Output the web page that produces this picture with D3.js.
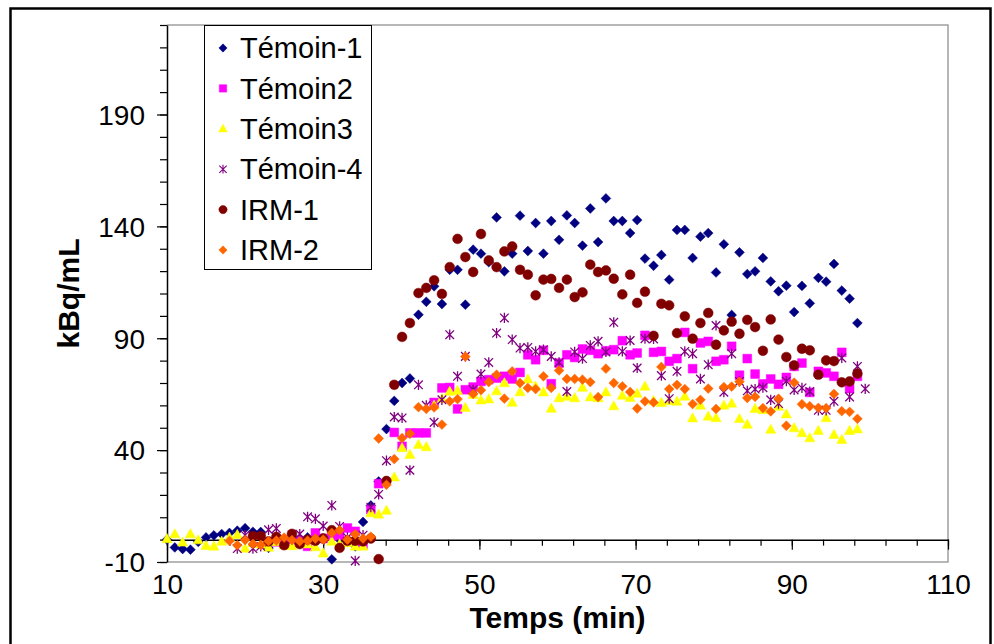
<!DOCTYPE html>
<html>
<head>
<meta charset="utf-8">
<script src="https://cdn.jsdelivr.net/npm/d3@7/dist/d3.min.js"></script>
<style>
  html, body { margin: 0; padding: 0; background: #fff; }
  svg { display: block; font-family: "Liberation Sans", Arial, sans-serif; }
</style>
</head>
<body>
<svg id="chart" width="994" height="644"></svg>
<script>
// ---- DATA ----
const temps = [
  10, 11, 12, 13, 14, 15, 16, 17, 18, 19,
  20, 21, 22, 23, 24, 25, 26, 27, 28, 29,
  30, 31.1, 32.1, 33.1, 34.1, 35.1, 36.1, 37.1, 38.1, 39.1,
  40.1, 41.1, 42.2, 43.2, 44.2, 45.2, 46.2, 47.2, 48.2, 49.2,
  50.2, 51.2, 52.2, 53.2, 54.2, 55.2, 56.2, 57.2, 58.2, 59.2,
  60.2, 61.2, 62.2, 63.2, 64.2, 65.2, 66.2, 67.2, 68.3, 69.3,
  70.2, 71.2, 72.3, 73.3, 74.3, 75.3, 76.3, 77.3, 78.3, 79.3,
  80.3, 81.3, 82.3, 83.3, 84.3, 85.3, 86.3, 87.3, 88.3, 89.3,
  90.3, 91.3, 92.3, 93.4, 94.4, 95.4, 96.4, 97.4, 98.4, 99.4
];

const temoin1 = [
  0, -3.5, -4.2, -4.5, -1, 1.0, 1.9, 2.5, 3.0, 4,
  5.1, 3.5, 3.4, -3.7, 0, -1, 1, 0, 1, -1,
  0.5, -8.8, 0, -1, -3, 7.9, 15.3, 26, 49.4, 62,
  70, 72, 100.5, 106.3, 113.2, 105.3, 120.6, 120.6, 105, 129.6,
  127.8, 124, 144, 119.9, 127.8, 144.8, 129, 141.5, 127.8, 142.4,
  134, 144.9, 141.5, 131.4, 148, 133, 152.5, 142.4, 142.4, 137,
  142.8, 125.6, 122.4, 127.2, 116.2, 138.4, 138.4, 125.9, 135.4, 137,
  119.4, 132, 100.4, 128.4, 118.7, 119.9, 125.9, 115.4, 111, 113.5,
  101.7, 113.4, 105.6, 117, 115.3, 123.2, 111.3, 107.7, 96.8, null
];

const temoin2 = [
  null, null, null, null, null, null, null, null, null, null,
  null, null, null, null, -1, 0, -1.5, -0.5, -3, 3,
  0.5, 1.5, 2, 5.2, 3.7, -2.3, 13.4, 25, null, 47.9,
  41.7, 47.7, 47.7, 47.7, 61.3, 67.8, 68, 58.4, 67, 68.2,
  70.7, 71.5, 72.2, 73, 71.8, 74.7, 82.6, 80.4, 84.6, 69.7,
  78.9, 82.6, 81.4, 85.2, 84.6, 83.1, 84.4, 84.9, 88.9, 82.6,
  83.4, 91.3, 83.7, 84.1, 79.7, 80.9, 92.6, 76.4, 87.9, 88.6,
  79.7, 80.4, 86.4, 73.5, 80.9, 74, 69.6, 71.8, 69.4, 72.5,
  77.4, 78.9, 65.8, 75.2, 74.5, 73, 83.7, 67.5, 73, null
];

const temoin3 = [
  0.3, 2.5, -1.2, 2.5, -0.2, -2.7, -3, -0.8, 1, 2.2,
  -3.9, -1.5, -2, -3.5, -1, -2.5, -2.8, -1, -2, -3.3,
  -6.1, -0.8, -2, -1.5, -3, -3, 11.9, 11.3, 13, 27.9,
  41, 38, 42.4, 41.4, 60, 63, 66.2, 66.6, 59, 64.8,
  62.3, 62.8, 66.4, 70, 61.3, 66, 71.7, 68.5, 65.9, 58.6,
  63.3, 64, 63.3, 68, 63.7, 63.3, 65.9, 59.7, 64.4, 63.4,
  65.3, 68.5, 62.1, 61.2, 62, 61.8, 64, 54.3, 60, 55.1,
  54.4, 60, 60.9, 54, 51.5, 58.5, 58, 49.2, 59.5, 56.1,
  49.9, 47.7, 45.4, 48.7, 54.4, 46.9, 44.7, 48.7, 49.4, null
];

const temoin4 = [
  null, null, null, null, null, null, null, null, null, -4,
  2, -4, -3, 4.4, 5, -1, 0, 2.5, 10.2, 9.3,
  6.1, 15.3, 5.9, 1, -9.5, 2, 14.5, 20.2, 35.3, 54.8,
  54.4, 31, 69.2, 60, 52.4, 62.5, 91.6, 73, 81.9, 67,
  74, 79.2, 92.3, 99.1, 89.4, 85.6, 85.9, 84.1, 84.9, 81.9,
  79.2, 66.2, 83.9, 80.9, 86.8, 88.6, 83.9, 97.1, 84.1, 89,
  76.7, 89.8, 89.7, 73.3, 63, 75.2, 84.1, 83.1, 71.8, 78.2,
  95.7, 65.9, 83.1, 70.7, 66.5, 67.3, 67.9, 62.5, 60.8, 70.8,
  66.9, 67.8, 66.2, 57.8, 57.8, 61.8, 81.2, 63.8, 77.4, 67.4
];

const irm1 = [
  null, null, null, null, null, null, null, null, null, null,
  null, 1.6, 1.6, -0.8, 1.2, -2.5, 2.6, -2, 0, -0.5,
  0.5, 4.2, -3.7, -0.5, -0.5, -0.8, 0.5, -8.7, 26.2, 69.2,
  90.6, 96.8, 110.2, 112.5, 115.9, 109.8, 121.8, 134.4, 126.3, 119.6,
  136.6, 124.8, 121.8, 128.8, 131, 120.6, 118.4, 109.2, 116.2, 116.5,
  112.5, 116.2, 108.4, 110.5, 122.9, 119.6, 120.3, 116.6, 109.6, 118.4,
  105.8, 110.8, 91.1, 105.4, 104.7, 92.3, 99.8, 89.8, 96.8, 101.3,
  87.1, 93.5, 97.4, 92, 98.2, 95, 84.4, 98.4, 89.4, 81.6,
  77.9, 85.3, 84.6, 73.7, 80.1, 79.8, 70.3, 70.7, 74.2, null
];

const irm2 = [
  null, null, null, null, null, null, null, null, -0.6, -2.5,
  -0.2, -1.9, -2.4, -0.7, -0.4, 0.9, -0.2, -0.8, -0.5, 0.5,
  0, 3, 4.2, 0, 2.4, 0.5, 1.3, 45.2, 24.5, 36,
  45.4, 47.3, 59.2, 58.4, 59.1, 51.4, 61.8, 62.8, 81.8, 65.1,
  66.8, 70.4, 73.7, 63, 75.2, 70, 67.8, 67.3, 73, 67.8,
  75.6, 71.8, 71.8, 71.5, 70.4, 63.7, 76.4, 70, 68.5, 66,
  58.6, 61.8, 61.3, 77.2, 67.3, 69.2, 67.3, 60.6, 62.5, 67.5,
  58.4, 68.2, 68.4, 70.6, 63.3, 63.8, 58.8, 57.3, 63, 50.9,
  70.2, 60.5, 59.6, 58.9, 58.8, 65.1, 57.4, 57.1, 54, null
];

const seriesNames = ["Témoin-1", "Témoin2", "Témoin3", "Témoin-4", "IRM-1", "IRM-2"];
const seriesValues = [temoin1, temoin2, temoin3, temoin4, irm1, irm2];
const seriesColors = ["#000080", "#FF00FF", "#FFFF00", "#800080", "#800000", "#FF6600"];
const seriesShapes = ["diamond", "square", "triangle", "star", "circle", "diamond"];

const xMajorTicks = [10, 30, 50, 70, 90, 110];
const yMajorTicks = [-10, 40, 90, 140, 190];
const xTitle = "Temps (min)";
const yTitle = "kBq/mL";

// ---- LAYOUT ----
const plot = { left: 167, right: 948, top: 25, bottom: 562 };
const svg = d3.select("#chart");

const x = d3.scaleLinear().domain([10, 110]).range([plot.left, plot.right]);
const y = d3.scaleLinear().domain([-10, 230]).range([plot.bottom, plot.top]);
const fmt = d => String(d);   // plain hyphen-minus like the reference

// outer frame
svg.append("rect")
  .attr("x", 10.5).attr("y", 8.5)
  .attr("width", 980).attr("height", 640)
  .attr("fill", "#fff").attr("stroke", "#000").attr("stroke-width", 2.5);

// plot area border (grey)
svg.append("path")
  .attr("d", `M${plot.left},${plot.top}H${plot.right}V${plot.bottom}H${plot.left}`)
  .attr("fill", "none").attr("stroke", "#a0a0a0").attr("stroke-width", 1.5);

function shapePath(shape) {
  switch (shape) {
    case "diamond": { const r = 4.9; return `M0,${-r}L${r},0L0,${r}L${-r},0Z`; }
    case "square": { const s = 4.4; return `M${-s},${-s}H${s}V${s}H${-s}Z`; }
    case "triangle": return "M0,-5.4L5.1,3.8L-5.1,3.8Z";
    case "circle": { const r = 4.9; return `M${r},0A${r},${r} 0 1 1 ${-r},0A${r},${r} 0 1 1 ${r},0Z`; }
    case "star": { const r = 4.3; return `M${-r},${-r}L${r},${r}M${-r},${r}L${r},${-r}M0,${-r - 0.8}L0,${r + 0.8}`; }
  }
}

function drawMarker(g, shape, color, scale) {
  const p = g.append("path").attr("d", shapePath(shape));
  if (scale) p.attr("transform", `scale(${scale})`);
  if (shape === "star") {
    p.attr("fill", "none").attr("stroke", color).attr("stroke-width", 1.3);
  } else {
    p.attr("fill", color).attr("stroke", color).attr("stroke-width", 0.5);
  }
}

// Y axis: minor ticks every 10, major every 50
const yMinor = d3.axisLeft(y).tickValues(d3.range(-10, 231, 10)).tickSize(7).tickFormat("");
const gyMinor = svg.append("g").attr("transform", `translate(${plot.left},0)`).call(yMinor);
gyMinor.select(".domain").remove();
gyMinor.selectAll("line").attr("stroke", "#000").attr("stroke-width", 1.2);

const yAxis = d3.axisLeft(y).tickValues(yMajorTicks).tickSize(10).tickPadding(12).tickSizeOuter(0).tickFormat(fmt);
const gy = svg.append("g").attr("transform", `translate(${plot.left},0)`).call(yAxis);
gy.select(".domain").attr("stroke", "#000").attr("stroke-width", 1.5);
gy.selectAll("line").attr("stroke", "#000").attr("stroke-width", 1.2);
gy.selectAll("text").attr("font-size", 28).attr("fill", "#000")
  .attr("font-family", "Liberation Sans, Arial, sans-serif").attr("dy", "0.35em");

// X axis line at y = 0 with ticks (minor every 4, major every 20)
const xMinor = d3.axisBottom(x).tickValues(d3.range(10, 111, 4)).tickSize(6).tickFormat("").tickSizeOuter(0);
const gxMinor = svg.append("g").attr("transform", `translate(0,${y(0)})`).call(xMinor);
gxMinor.select(".domain").attr("stroke", "#000").attr("stroke-width", 1.5);
gxMinor.selectAll("line").attr("stroke", "#000").attr("stroke-width", 1.2);

const xMajor = d3.axisBottom(x).tickValues(xMajorTicks).tickSize(10).tickFormat("").tickSizeOuter(0);
const gxMajor = svg.append("g").attr("transform", `translate(0,${y(0)})`).call(xMajor);
gxMajor.select(".domain").remove();
gxMajor.selectAll("line").attr("stroke", "#000").attr("stroke-width", 1.2);

// X tick labels, placed below the plot area
const xLabels = d3.axisBottom(x).tickValues(xMajorTicks).tickSize(0).tickPadding(12).tickFormat(fmt);
const gxl = svg.append("g").attr("transform", `translate(0,${plot.bottom})`).call(xLabels);
gxl.select(".domain").remove();
gxl.selectAll("text").attr("font-size", 28).attr("fill", "#000")
  .attr("font-family", "Liberation Sans, Arial, sans-serif");

// axis titles
svg.append("text")
  .attr("x", (plot.left + plot.right) / 2).attr("y", 628)
  .attr("text-anchor", "middle").attr("font-size", 30).attr("font-weight", "bold")
  .text(xTitle);

svg.append("text")
  .attr("transform", `translate(79,${(plot.top + plot.bottom) / 2}) rotate(-90)`)
  .attr("text-anchor", "middle").attr("font-size", 30).attr("font-weight", "bold")
  .text(yTitle);

// data points (series order = drawing order)
const gData = svg.append("g");
seriesNames.forEach((name, si) => {
  const pts = temps.map((t, i) => ({ t, v: seriesValues[si][i] })).filter(d => d.v !== null);
  const gs = gData.append("g");
  pts.forEach(d => {
    const g = gs.append("g").attr("transform", `translate(${x(d.t)},${y(d.v)})`);
    drawMarker(g, seriesShapes[si], seriesColors[si]);
  });
});

// legend
const legend = svg.append("g");
legend.append("rect")
  .attr("x", 204.5).attr("y", 25.5).attr("width", 167).attr("height", 244)
  .attr("fill", "#fff").attr("stroke", "#000").attr("stroke-width", 1);
seriesNames.forEach((name, si) => {
  const cy = 48 + si * 40.4;
  const g = legend.append("g").attr("transform", `translate(223,${cy})`);
  drawMarker(g, seriesShapes[si], seriesColors[si], 0.85);
  legend.append("text")
    .attr("x", 240).attr("y", cy).attr("dy", "0.35em")
    .attr("font-size", 29).attr("fill", "#000")
    .text(name);
});
</script>
</body>
</html>
